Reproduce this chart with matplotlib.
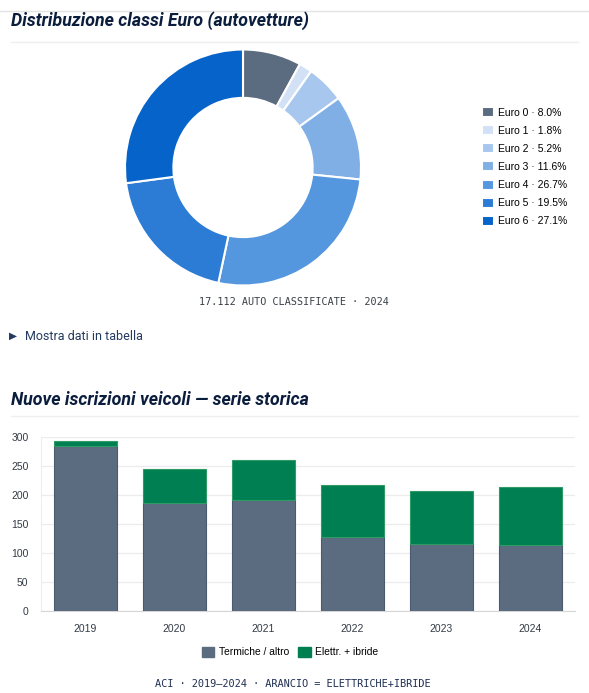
import matplotlib
matplotlib.use("Agg")
import matplotlib.pyplot as plt
from matplotlib.patches import Patch
from matplotlib.lines import Line2D
import numpy as np

# ---- data ----
euro_classes = ["Euro 0", "Euro 1", "Euro 2", "Euro 3", "Euro 4", "Euro 5", "Euro 6"]
euro_shares = [8.0, 1.8, 5.2, 11.6, 26.7, 19.5, 27.1]
euro_colors = ["#5b6b80", "#d3e1f6", "#a8c7ee", "#7fafe5", "#5497de", "#2c7cd5", "#0563c9"]

years = ["2019", "2020", "2021", "2022", "2023", "2024"]
termiche = [284, 186, 191, 127, 116, 113]
elettriche = [9, 59, 70, 91, 91, 100]
series_labels = ["Termiche / altro", "Elettr. + ibride"]
y_ticks = [0, 50, 100, 150, 200, 250, 300]

W, H = 589, 693
fig = plt.figure(figsize=(W / 100, H / 100), dpi=100)
fig.patch.set_facecolor("white")

def fx(x):
    return x / W

def fy(y):
    return 1 - y / H

TITLE_FONT = ["Roboto", "DejaVu Sans"]
NAVY = "#0b1d3d"
MONO = ["DejaVu Sans Mono"]
SANS = ["Liberation Sans", "DejaVu Sans"]

# horizontal rules
fig.add_artist(Line2D([0, 1], [fy(10.5), fy(10.5)], color="#e3e3e3", lw=1))
fig.add_artist(Line2D([fx(11), fx(578)], [fy(42), fy(42)], color="#efefef", lw=1))
fig.add_artist(Line2D([fx(11), fx(578)], [fy(416), fy(416)], color="#efefef", lw=1))

# titles
fig.text(fx(11), fy(21), "Distribuzione classi Euro (autovetture)", family=TITLE_FONT,
         weight="bold", style="italic", fontsize=12.8, color=NAVY, va="center", ha="left")
fig.text(fx(11), fy(400), "Nuove iscrizioni veicoli \u2014 serie storica", family=TITLE_FONT,
         weight="bold", style="italic", fontsize=12.8, color=NAVY, va="center", ha="left")

# ---- donut ----
cx, cy, r = 243, 167.5, 118
axd = fig.add_axes([fx(cx - r), fy(cy + r), 2 * r / W, 2 * r / H])
wedges, _ = axd.pie(euro_shares, colors=euro_colors, startangle=90, counterclock=False,
                    radius=1, wedgeprops=dict(width=0.41, edgecolor="white", linewidth=1.5))
axd.set_xlim(-1, 1)
axd.set_ylim(-1, 1)
axd.set_aspect("auto")
axd.axis("off")

leg_labels = [f"{c} \u00b7 {v:.1f}%" for c, v in zip(euro_classes, euro_shares)]
fig.legend(wedges, leg_labels, loc="upper left", bbox_to_anchor=(fx(482), fy(107)),
           frameon=False, handlelength=1.15, handleheight=1.1,
           handletextpad=0.4, labelspacing=0.73, borderaxespad=0, borderpad=0,
           prop={"family": SANS, "size": 7.5})

fig.text(fx(293.5), fy(302), "17.112 AUTO CLASSIFICATE \u00b7 2024", family=MONO,
         fontsize=7.3, color="#3a3f47", ha="center", va="center")

fig.text(fx(9), fy(336), "\u25b6", family=["DejaVu Sans"], fontsize=7.5, color="#243a5e",
         ha="left", va="center")
fig.text(fx(25), fy(336), "Mostra dati in tabella", family=["Roboto", "DejaVu Sans"],
         fontsize=9, color="#243a5e", ha="left", va="center")

# ---- bars ----
axb = fig.add_axes([fx(41), fy(611), (575 - 41) / W, (611 - 437) / H])
x = np.arange(len(years))
axb.bar(x, termiche, width=0.71, color="#5b6b80", edgecolor="#4a5a70", linewidth=0.8,
        label=series_labels[0], zorder=3)
axb.bar(x, elettriche, bottom=termiche, width=0.71, color="#008052", edgecolor="#2f9a66",
        linewidth=0.8, label=series_labels[1], zorder=3)
axb.set_xlim(-0.5, len(years) - 0.5)
axb.set_ylim(0, 300)
axb.set_yticks(y_ticks)
axb.set_xticks(x)
axb.set_xticklabels(years)
axb.grid(axis="y", color="#ececec", lw=0.9, zorder=0)
for s in ["top", "right"]:
    axb.spines[s].set_visible(False)
axb.spines["left"].set_color("#eeeeee")
axb.spines["bottom"].set_color("#d6d6d6")
axb.tick_params(axis="both", length=0, labelsize=7.5, labelcolor="#333a45")
axb.tick_params(axis="y", pad=9)
axb.tick_params(axis="x", pad=9)
for t in axb.get_xticklabels() + axb.get_yticklabels():
    t.set_family(SANS)

fig.legend(handles=[Patch(facecolor="#5b6b80", edgecolor="#5b6b80"),
                    Patch(facecolor="#008052", edgecolor="#008052")],
           labels=series_labels, loc="center", bbox_to_anchor=(fx(290), fy(652)), ncol=2,
           frameon=False, handlelength=1.2, handleheight=1.15, handletextpad=0.45,
           columnspacing=0.9, borderaxespad=0, borderpad=0,
           prop={"family": SANS, "size": 7.4})

fig.text(fx(293), fy(684), "ACI \u00b7 2019\u20132024 \u00b7 ARANCIO = ELETTRICHE+IBRIDE",
         family=MONO, fontsize=7.4, color="#1d2f52", ha="center", va="center")

fig.savefig("out.png", dpi=100, facecolor="white")
